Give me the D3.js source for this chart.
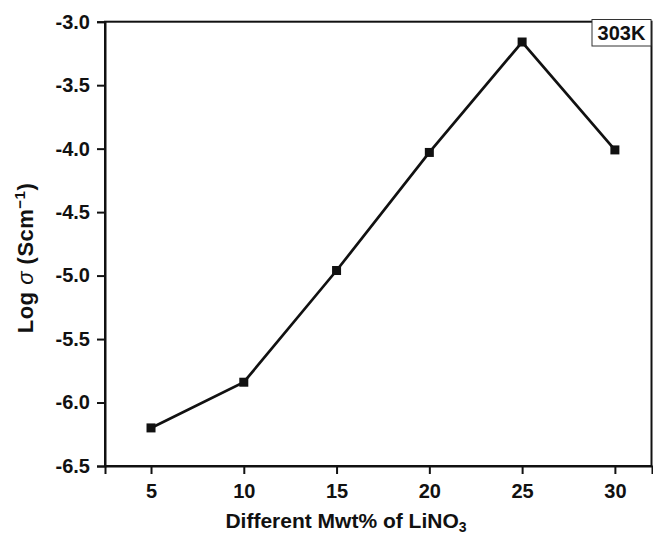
<!DOCTYPE html>
<html><head><meta charset="utf-8">
<script src="https://cdn.jsdelivr.net/npm/d3@7"></script>
<style>body{margin:0;background:#fff}svg{display:block}</style>
</head><body>
<script>
const xValues = [5, 10, 15, 20, 25, 30];
const logSigma = [-6.20, -5.84, -4.96, -4.03, -3.16, -4.01];
const xTicks = [5, 10, 15, 20, 25, 30];
const yTicks = [-3.0, -3.5, -4.0, -4.5, -5.0, -5.5, -6.0, -6.5];
const tempLabel = "303K";

const W = 653, H = 536;
const m = {left: 105, right: 1, top: 21.7, bottom: 70};
const svg = d3.select("body").append("svg").attr("width", W).attr("height", H);
const x = d3.scaleLinear().domain([2.52, 32.0]).range([m.left, W - m.right]);
const y = d3.scaleLinear().domain([-6.5, -3.0]).range([466, m.top]);
const font = "'Liberation Sans', Arial, sans-serif";

// frame
svg.append("rect").attr("x", m.left).attr("y", m.top)
  .attr("width", x.range()[1] - m.left - 0.5).attr("height", 466 - m.top)
  .attr("fill", "none").attr("stroke", "#111").attr("stroke-width", 2);

const yAxis = svg.append("g").attr("transform", `translate(${m.left},0)`)
  .call(d3.axisLeft(y).tickValues(yTicks).tickFormat(d3.format(".1f")).tickSize(8).tickPadding(7));
const xAxis = svg.append("g").attr("transform", `translate(0,466)`)
  .call(d3.axisBottom(x).tickValues(xTicks).tickSize(8).tickPadding(10));
[xAxis, yAxis].forEach(g => {
  g.select(".domain").attr("stroke", "#111").attr("stroke-width", 2);
  g.selectAll(".tick line").attr("stroke", "#111").attr("stroke-width", 2);
  g.selectAll(".tick text").attr("fill", "#111").style("font-family", font)
   .style("font-size", "20px").style("font-weight", "bold");
});
yAxis.selectAll(".tick text").text(d => d3.format(".1f")(d).replace("−", "-"));

const line = d3.line().x((d, i) => x(xValues[i])).y(d => y(d));
svg.append("path").datum(logSigma).attr("d", line)
  .attr("fill", "none").attr("stroke", "#111").attr("stroke-width", 2.7);
svg.selectAll("rect.pt").data(logSigma).enter().append("rect").attr("class", "pt")
  .attr("x", (d, i) => x(xValues[i]) - 4.5).attr("y", d => y(d) - 4.5)
  .attr("width", 9).attr("height", 9).attr("fill", "#111");

// legend box
const lg = svg.append("g");
lg.append("rect").attr("x", 592).attr("y", 19.5).attr("width", 59).attr("height", 26.5)
  .attr("fill", "#fff").attr("stroke", "#333").attr("stroke-width", 1);
lg.append("text").attr("x", 621.5).attr("y", 40).attr("text-anchor", "middle")
  .style("font-family", font).style("font-size", "20px").style("font-weight", "bold")
  .attr("fill", "#111").text(tempLabel);

// x label
const xl = svg.append("text").attr("x", 346).attr("y", 528).attr("text-anchor", "middle")
  .style("font-family", font).style("font-size", "21px").style("font-weight", "bold").attr("fill", "#111");
xl.append("tspan").text("Different Mwt% of LiNO");
xl.append("tspan").attr("dy", 4).style("font-size", "14px").text("3");

// y label
const yl = svg.append("text").attr("transform", "translate(33,258) rotate(-90)").attr("text-anchor", "middle")
  .style("font-family", font).style("font-size", "22px").style("font-weight", "bold").attr("fill", "#111")
  .style("letter-spacing", "0.5px");
yl.append("tspan").text("Log ");
yl.append("tspan").style("font-style", "italic").style("font-weight", "normal").text("σ");
yl.append("tspan").text(" (Scm");
yl.append("tspan").attr("dy", -8).style("font-size", "15px").text("−1");
yl.append("tspan").attr("dy", 8).text(")");
</script>
</body></html>
